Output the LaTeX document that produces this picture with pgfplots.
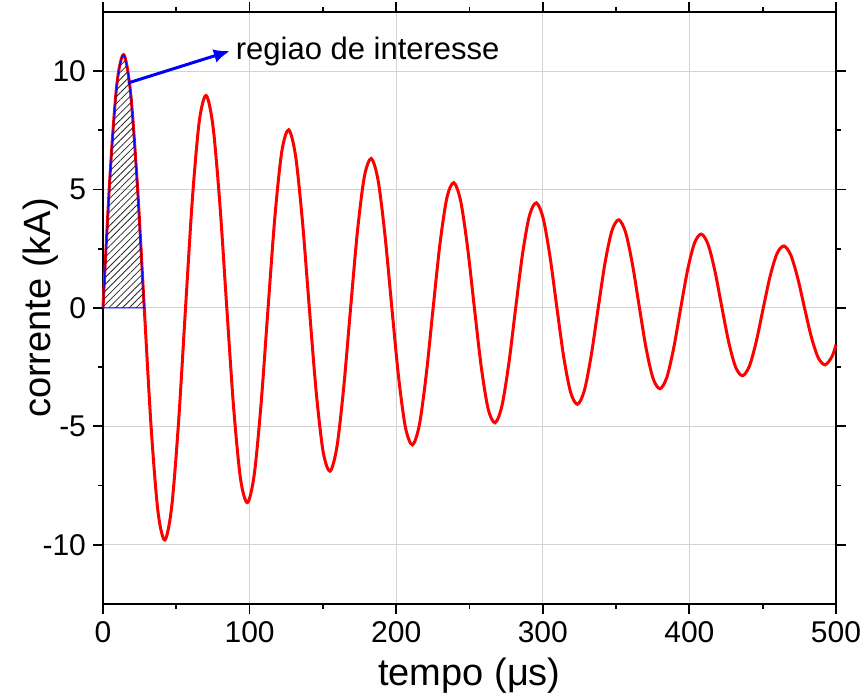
\documentclass[border=0pt]{standalone}
\usepackage{pgfplots}
\pgfplotsset{compat=1.18}
\usepackage{fontspec}
\setmainfont{Liberation Sans}
\usetikzlibrary{patterns.meta,arrows.meta}

% damped oscillation of the current
\pgfplotstableread{
t y
0 0
4.69 5.509
9.38 9.402
14.08 10.699
18.77 9.130
23.46 5.195
28.15 0
32.84 -5.045
37.53 -8.611
42.23 -9.798
46.92 -8.362
51.61 -4.758
56.30 0
60.99 4.620
65.68 7.885
70.38 8.973
75.07 7.657
79.76 4.357
84.45 0
89.14 -4.231
93.83 -7.222
98.53 -8.217
103.22 -7.013
107.91 -3.990
112.60 0
117.29 3.875
121.98 6.613
126.68 7.525
131.37 6.421
136.06 3.654
140.75 0
145.44 -3.549
150.13 -6.057
154.83 -6.891
159.52 -5.882
164.21 -3.347
168.90 0
173.59 3.250
178.28 5.546
182.98 6.311
187.67 5.386
192.36 3.065
197.05 0
201.74 -2.976
206.43 -5.080
211.13 -5.779
215.82 -4.933
220.51 -2.807
225.20 0
229.89 2.725
234.58 4.651
239.28 5.293
243.97 4.517
248.66 2.570
253.35 0
258.04 -2.496
262.73 -4.261
267.43 -4.847
272.12 -4.137
276.81 -2.354
281.50 0
286.19 2.286
290.89 3.900
295.58 4.439
300.27 3.788
304.96 2.156
309.65 0
314.34 -2.094
319.04 -3.573
323.73 -4.065
328.42 -3.469
333.11 -1.974
337.80 0
342.49 1.917
347.19 3.271
351.88 3.723
356.57 3.177
361.26 1.808
365.95 0
370.64 -1.756
375.34 -2.996
380.03 -3.409
384.72 -2.910
389.41 -1.656
394.10 0
398.79 1.608
403.49 2.743
408.18 3.122
412.87 2.664
417.56 1.517
422.25 0
426.94 -1.473
431.64 -2.513
436.33 -2.859
441.02 -2.440
445.71 -1.389
450.40 0
455.09 1.348
459.79 2.301
464.48 2.618
469.17 2.234
473.86 1.272
478.55 0
483.24 -1.235
487.94 -2.108
492.63 -2.398
497.32 -2.046
500 -1.55
}\corrente

% first half-wave (region of interest)
\pgfplotstableread{
t y
0 0
4.69 5.509
9.38 9.402
14.08 10.699
18.77 9.130
23.46 5.195
28.15 0
}\regiao

\begin{document}
\begin{tikzpicture}
\useasboundingbox (0,0) rectangle (432pt,347.5pt);
\begin{axis}[
  at={(51.5pt,45.5pt)}, anchor=south west,
  scale only axis,
  width=366.5pt, height=296pt,
  xmin=0, xmax=500, ymin=-12.5, ymax=12.5,
  xtick={0,100,...,500}, ytick={-10,-5,0,5,10},
  minor x tick num=1, minor y tick num=1,
  tick align=outside,
  major tick length=5pt, minor tick length=2.5pt,
  every tick/.style={black, line width=0.9pt},
  axis line style={line width=1pt},
  grid=major,
  major grid style={gray!35, line width=0.5pt},
  /pgf/number format/assume math mode=true,
  tick label style={font=\fontsize{15}{18}\selectfont},
  xlabel={tempo (μs)}, ylabel={corrente (kA)},
  label style={font=\fontsize{19}{22}\selectfont},
  xlabel style={at={(axis description cs:0.5,-0.1385)}, anchor=base},
  ylabel style={at={(axis description cs:-0.085,0.5)}, anchor=center},
  clip=false,
]
\addplot[red, line width=1.5pt, smooth] table[x=t,y=y] {\corrente};
\addplot[blue, line width=0.5pt, smooth,
  pattern={Lines[angle=45, distance=2.4pt, line width=0.4pt]}, pattern color=black!85]
  table[x=t,y=y] {\regiao} \closedcycle;
\draw[blue, line width=1.5pt, -{Latex[length=8pt,width=7pt]}]
  (axis cs:17,9.5) -- (axis cs:86.5,10.85);
\node[anchor=west, inner sep=1pt, font=\fontsize{15.5}{18}\selectfont]
  at (axis cs:89,10.85) {regiao de interesse};
\end{axis}
\end{tikzpicture}
\end{document}
